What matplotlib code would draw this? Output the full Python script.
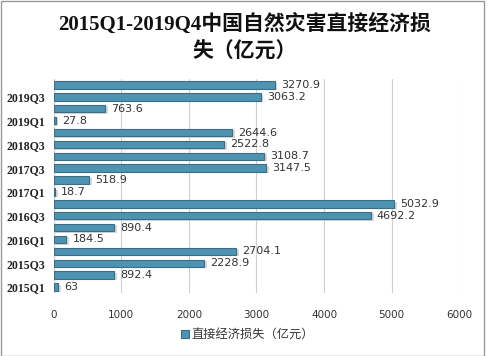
import matplotlib.pyplot as plt
from matplotlib.patches import Rectangle

quarters = ['2015Q1', '2015Q2', '2015Q3', '2015Q4',
            '2016Q1', '2016Q2', '2016Q3', '2016Q4',
            '2017Q1', '2017Q2', '2017Q3', '2017Q4',
            '2018Q3', '2018Q4',
            '2019Q1', '2019Q2', '2019Q3', '2019Q4']
losses = [63, 892.4, 2228.9, 2704.1,
          184.5, 890.4, 4692.2, 5032.9,
          18.7, 518.9, 3147.5, 3108.7,
          2522.8, 2644.6,
          27.8, 763.6, 3063.2, 3270.9]
series_name = '直接经济损失（亿元）'
title = '2015Q1-2019Q4中国自然灾害直接经济损\n失（亿元）'

cjk = ['Noto Sans CJK SC', 'DejaVu Sans']
serif = ['Liberation Serif', 'Noto Sans CJK SC']

fig = plt.figure(figsize=(4.89, 3.56), dpi=100)
ax = fig.add_axes([0.110, 0.177, 0.829, 0.601])

ypos = range(len(quarters))
# shadow then bar
ax.barh([y - 0.12 for y in ypos], [v + 25 for v in losses], height=0.62,
        left=15, color='#bdbdbd', alpha=0.6, zorder=2)
bars = ax.barh(ypos, losses, height=0.62, color='#4f93b3',
               edgecolor='#3b6e84', linewidth=0.8, zorder=3)

for y, v in zip(ypos, losses):
    ax.text(v + 90, y, f'{v:g}', va='center', ha='left', fontsize=8,
            color='#333333', family=['DejaVu Sans'], zorder=4)

ax.set_xlim(0, 6000)
ax.set_ylim(-0.5, len(quarters) - 0.5)
ax.set_xticks(range(0, 7000, 1000))
ax.set_xticklabels([str(t) for t in range(0, 7000, 1000)], fontsize=7.5,
                   color='#333333')
ax.set_yticks(list(ypos)[::2])
ax.set_yticklabels(quarters[::2], fontsize=8.5, fontweight='bold',
                   family=serif, color='#222222')
ax.tick_params(length=0, pad=6)
ax.tick_params(axis='x', pad=12)
ax.grid(axis='x', color='#d0d0d0', linewidth=0.8, zorder=0)
ax.axvline(0, color='#d0d0d0', linewidth=0.8, zorder=1)
for s in ax.spines.values():
    s.set_visible(False)

fig.text(0.5, 0.893, title, ha='center', va='center', fontsize=15,
         fontweight='bold', family=serif, color='#111111', linespacing=1.45)

# legend
fig.patches.append(Rectangle((0.37, 0.051), 0.016, 0.022,
                             transform=fig.transFigure, facecolor='#4f93b3',
                             edgecolor='#3b6e84', linewidth=0.8))
fig.text(0.392, 0.062, series_name, ha='left', va='center', fontsize=8.8,
         family=cjk, color='#333333')

# outer frame
fig.patches.append(Rectangle((0.002, 0.0), 0.988, 0.998,
                             transform=fig.transFigure, fill=False,
                             edgecolor='#999999', linewidth=1))

fig.savefig('out.png', dpi=100)
